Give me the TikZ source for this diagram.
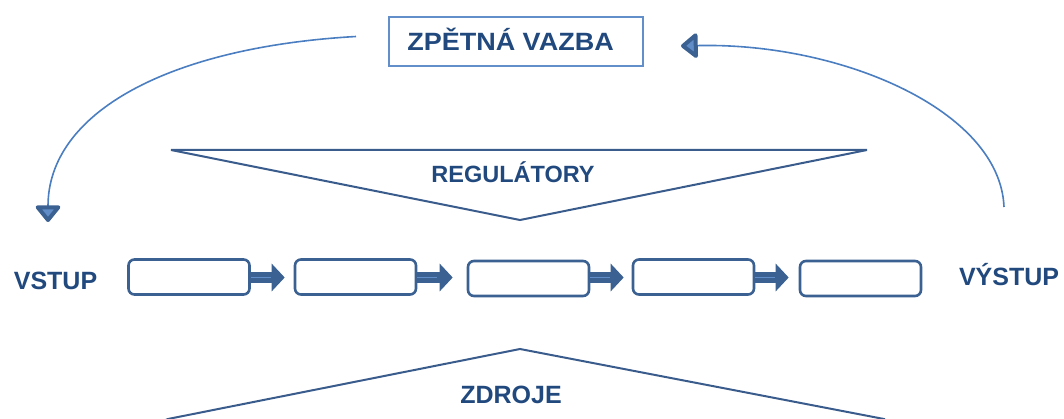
\documentclass[tikz,border=0pt]{standalone}
\usepackage{fontspec}
\setmainfont{Liberation Sans}
\newfontfamily\widesans[FakeStretch=1.08]{Liberation Sans}
\usetikzlibrary{arrows.meta}

\definecolor{txtblue}{RGB}{33,73,126}
\definecolor{boxline}{RGB}{58,97,145}
\definecolor{arrowlight}{RGB}{96,140,200}
\definecolor{curveblue}{RGB}{74,126,193}
\definecolor{frameblue}{RGB}{98,142,202}
\definecolor{triline}{RGB}{58,92,140}

\tikzset{
  label/.style={font=\fontsize{25}{30}\selectfont\bfseries, text=txtblue,
                inner sep=0pt, anchor=base},
  stepbox/.style={draw=boxline, line width=2.6pt, rounded corners=6pt,
                  minimum width=121pt, minimum height=35pt, inner sep=0pt},
  flow/.style={draw=boxline, line width=11pt,
               -{Triangle[length=13pt,width=27pt]}},
  flowcore/.style={draw=arrowlight, line width=1pt},
  loop/.style={draw=curveblue, line width=1.6pt,
               -{Triangle[length=18pt,width=28pt,round,line width=4pt,
                 color=boxline,fill=arrowlight]}},
  wedge/.style={draw=triline, line width=2pt, line join=miter},
}

\begin{document}
\begin{tikzpicture}[x=1pt,y=-1pt]
\useasboundingbox (0,0) rectangle (1064,419);
\clip (0,0) rectangle (1064,419);

% feedback label in its frame
\node[draw=frameblue, line width=2pt, minimum width=254pt, minimum height=49pt,
      inner sep=0pt] (fb) at (516,41.5) {};
\node[label, font=\fontsize{25}{30}\selectfont\widesans\bfseries]
  (fbtext) at (510.5,51) {ZPĚTNÁ VAZBA};

% regulators: downward wedge
\draw[wedge] (171,150) -- (867,150) -- (520,220) -- cycle;
\node[label, font=\fontsize{23.5}{28}\selectfont\bfseries]
  (reg) at (513,183) {REGULÁTORY};

% resources: upward wedge
\draw[wedge] (520,349) -- (884,419) -- (884,424) -- (156,424) -- (168,419) -- cycle;
\node[label] (res) at (511,403) {ZDROJE};

% input and output
\node[label] (in)  at (55.5,289) {VSTUP};
\node[label] (out) at (1009,285) {VÝSTUP};

% process steps
\node[stepbox] (b1) at (189,277)   {};
\node[stepbox] (b2) at (355.5,277) {};
\node[stepbox] (b3) at (528.5,278.5) {};
\node[stepbox] (b4) at (693.5,277) {};
\node[stepbox] (b5) at (860.5,278.5) {};

% block arrows between steps
\foreach \a/\b/\g in {b1/b2/9, b2/b3/14, b3/b4/8, b4/b5/10}{
  \draw[flow, shorten >=\g pt] (\a.east |- 0,277.5) -- (\b.west |- 0,277.5);
  \draw[flowcore] (\a.east |- 0,277.5) -- ++(20,0);
}

% feedback loops
\coordinate (inTop) at (48,222);
\coordinate (fbIn) at (681,46);
\draw[loop] ([xshift=-32pt,yshift=5pt]fb.west)
  .. controls (170,47) and (48,112) .. (inTop);
\draw[loop] (1004,207) .. controls (1000,110) and (840,42) .. (fbIn);
\end{tikzpicture}
\end{document}
